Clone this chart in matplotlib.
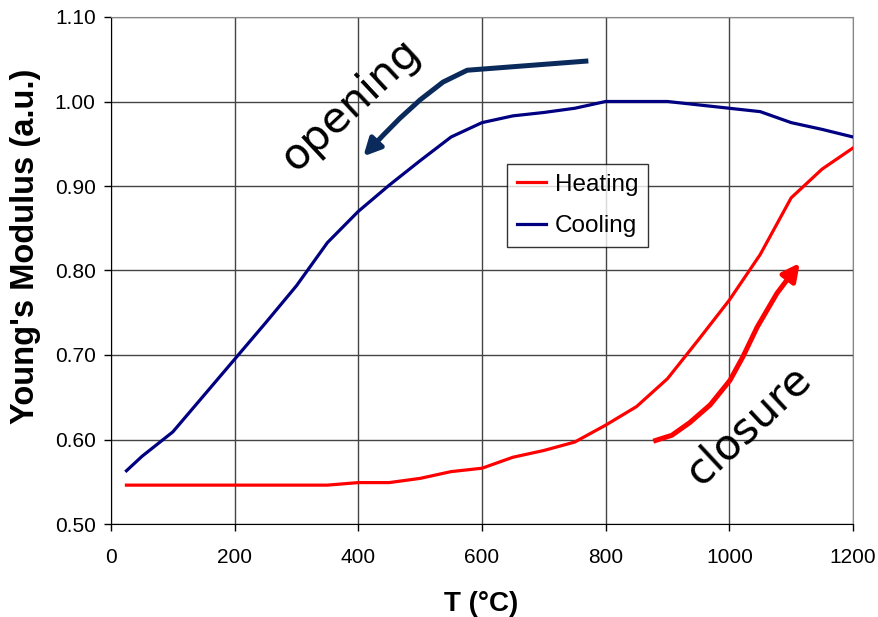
import matplotlib
matplotlib.use("Agg")
import matplotlib.pyplot as plt
from matplotlib.patches import FancyArrowPatch
from matplotlib.path import Path

# Data
heating_T = [25, 350, 400, 450, 500, 550, 600, 650, 700, 750, 800, 850, 900, 950,
             1000, 1050, 1100, 1150, 1200]
heating_E = [0.546, 0.546, 0.549, 0.549, 0.554, 0.562, 0.566, 0.579, 0.587, 0.597,
             0.617, 0.639, 0.672, 0.718, 0.765, 0.819, 0.886, 0.920, 0.945]

cooling_T = [25, 50, 100, 150, 200, 250, 300, 350, 400, 450, 500, 550, 600, 650,
             700, 750, 800, 850, 900, 950, 1000, 1050, 1100, 1150, 1200]
cooling_E = [0.563, 0.580, 0.609, 0.652, 0.695, 0.738, 0.782, 0.833, 0.870, 0.901,
             0.930, 0.958, 0.975, 0.983, 0.987, 0.992, 1.000, 1.000, 1.000, 0.996,
             0.992, 0.988, 0.975, 0.967, 0.958]

# Hand-drawn arrows (data coordinates)
opening_T = [772, 576, 537, 500, 467, 440, 408]
opening_E = [1.048, 1.037, 1.023, 1.002, 0.980, 0.960, 0.935]
closure_T = [877, 907, 936, 969, 1001, 1022, 1045, 1077, 1114]
closure_E = [0.598, 0.605, 0.620, 0.641, 0.670, 0.698, 0.733, 0.773, 0.809]

x_ticks = [0, 200, 400, 600, 800, 1000, 1200]
y_ticks = [0.50, 0.60, 0.70, 0.80, 0.90, 1.00, 1.10]

plt.rcParams["font.family"] = ["Liberation Sans", "DejaVu Sans"]

fig = plt.figure(figsize=(8.79, 6.17), dpi=100)
ax = fig.add_axes([111 / 879, 1 - 524 / 617, 742 / 879, 507 / 617])

ax.plot(heating_T, heating_E, color="#ff0000", lw=2.3, label="Heating", zorder=3)
ax.plot(cooling_T, cooling_E, color="#000080", lw=2.3, label="Cooling", zorder=3)

# curved arrows
for xs, ys, col in [(opening_T, opening_E, "#0b2a5c"), (closure_T, closure_E, "#ff0000")]:
    verts = list(zip(xs, ys))
    arrow = FancyArrowPatch(path=Path(verts), arrowstyle="-|>", mutation_scale=26,
                            color=col, lw=3.6, zorder=4, joinstyle="round",
                            capstyle="butt")
    ax.add_patch(arrow)

ax.text(387, 0.996, "opening", rotation=43, fontsize=31, family="DejaVu Sans",
        ha="center", va="center", rotation_mode="anchor")
ax.text(1031, 0.617, "closure", rotation=43, fontsize=31, family="DejaVu Sans",
        ha="center", va="center", rotation_mode="anchor")

ax.set_xlim(0, 1200)
ax.set_ylim(0.50, 1.10)
ax.set_xticks(x_ticks)
ax.set_yticks(y_ticks)
ax.set_yticklabels([f"{v:.2f}" for v in y_ticks])
ax.tick_params(axis="both", direction="out", length=5, width=1, labelsize=15,
               color="black", pad=6)
ax.tick_params(axis="x", pad=12)

ax.grid(True, color="#444444", lw=1)
ax.set_axisbelow(True)
for side in ["left", "bottom"]:
    ax.spines[side].set_color("black")
for side in ["top", "right"]:
    ax.spines[side].set_color("#888888")

ax.set_xlabel("T (°C)", fontsize=20, fontweight="bold")
ax.set_ylabel("Young's Modulus (a.u.)", fontsize=23.5, fontweight="bold")
ax.xaxis.set_label_coords(0.499, -0.132)
ax.yaxis.set_label_coords(-0.094, 0.548)

leg = ax.legend(loc="upper left", bbox_to_anchor=(0.534, 0.710), borderaxespad=0,
                fontsize=17.5, frameon=True, fancybox=False, handlelength=1.2,
                handletextpad=0.35, borderpad=0.4, labelspacing=0.8)
leg.get_frame().set_edgecolor("black")
leg.get_frame().set_linewidth(1)

fig.savefig("out.png", dpi=100)
